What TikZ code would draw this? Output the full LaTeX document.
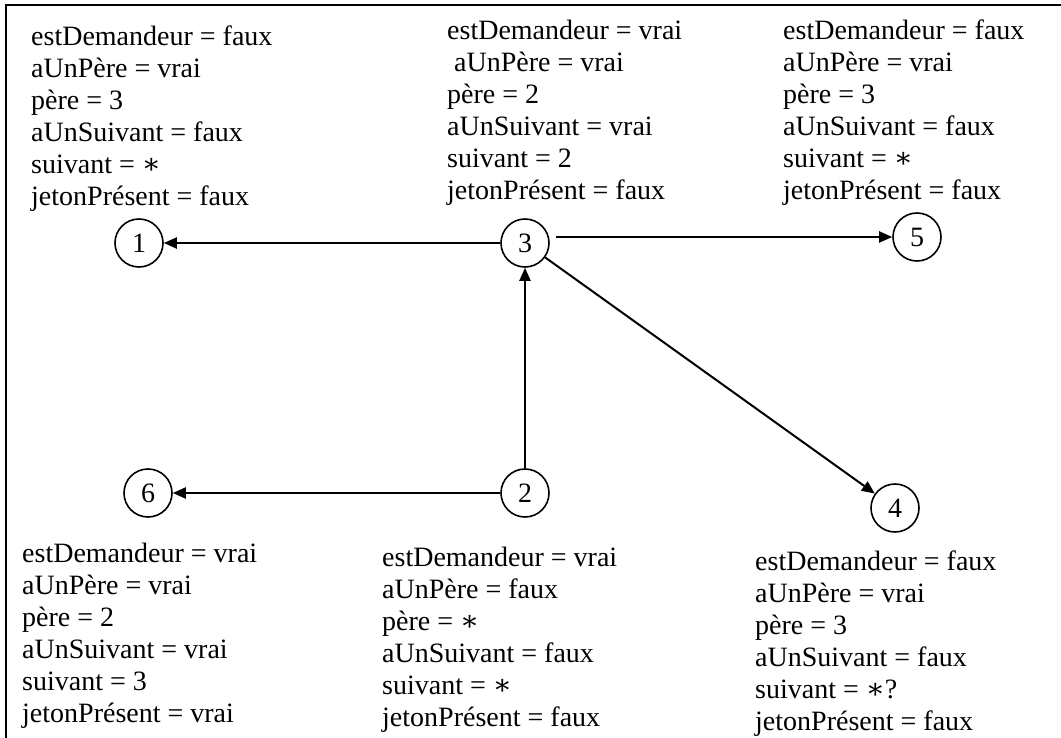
\documentclass[tikz,border=0pt]{standalone}
\usepackage{fontspec}
\setmainfont{Liberation Serif}
\newfontfamily\astfont{DejaVu Serif}
\usetikzlibrary{arrows.meta}
\tikzset{
  txt/.style={font=\fontsize{28}{32}\selectfont, align=left, anchor=north west, inner sep=0pt},
  vertex/.style={circle, draw, line width=1.6pt, minimum size=48pt, inner sep=0pt, font=\fontsize{28}{32}\selectfont},
  arr/.style={line width=2pt, -{Triangle[length=13pt,width=11pt]}},
  frame/.style={line width=2.2pt}
}
\newcommand{\stv}{{\astfont ∗}}
\begin{document}
\begin{tikzpicture}[x=1pt,y=-1pt]
\useasboundingbox (0,0) rectangle (1061,738);
% frame
\coordinate (ftl) at (6,5);
\coordinate (ftr) at (1061,5);
\coordinate (fbl) at (6,738);
\draw[frame] (ftr) -- (ftl) -- (fbl);
% vertices
\node[vertex] (n1) at (139,243) {1};
\node[vertex] (n3) at (525,243) {3};
\node[vertex] (n5) at (917,237) {5};
\node[vertex] (n2) at (525,493) {2};
\node[vertex] (n6) at (148,493) {6};
\node[vertex] (n4) at (895,508) {4};
% edges
\draw[arr] (n3) -- (n1);
\draw[arr] ([xshift=6pt,yshift=6pt]n3.east) -- (n5.west);
\draw[arr] (n2) -- (n3);
\draw[arr] (n3) -- (n4);
\draw[arr] (n2) -- (n6);
% texts
\node[txt] (t1) at (31,26) {estDemandeur = faux\\aUnPère = vrai\\père = 3\\aUnSuivant = faux\\suivant = \stv\\jetonPrésent = faux};
\node[txt] (t3) at (447,20) {estDemandeur = vrai\\\hspace*{7pt}aUnPère = vrai\\père = 2\\aUnSuivant = vrai\\suivant = 2\\jetonPrésent = faux};
\node[txt] (t5) at (783,20) {estDemandeur = faux\\aUnPère = vrai\\père = 3\\aUnSuivant = faux\\suivant = \stv\\jetonPrésent = faux};
\node[txt] (t6) at (22,543) {estDemandeur = vrai\\aUnPère = vrai\\père = 2\\aUnSuivant = vrai\\suivant = 3\\jetonPrésent = vrai};
\node[txt] (t2) at (382,547) {estDemandeur = vrai\\aUnPère = faux\\père = \stv\\aUnSuivant = faux\\suivant = \stv\\jetonPrésent = faux};
\node[txt] (t4) at (755,551) {estDemandeur = faux\\aUnPère = vrai\\père = 3\\aUnSuivant = faux\\suivant = \stv?\\jetonPrésent = faux};
\end{tikzpicture}
\end{document}
